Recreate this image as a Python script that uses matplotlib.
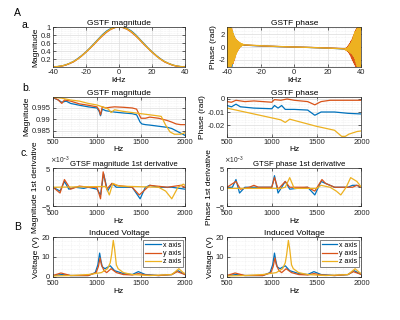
import numpy as np
import matplotlib.pyplot as plt
from matplotlib.ticker import AutoMinorLocator, FormatStrFormatter

plt.rcParams['font.family'] = ['Liberation Sans', 'DejaVu Sans']
plt.rcParams['font.size'] = 5.5
plt.rcParams['axes.unicode_minus'] = False

C_X = '#0072BD'
C_Y = '#D95319'
C_Z = '#EDB120'

# a. GSTF magnitude vs kHz
mag_khz = np.arange(-40, 40.1, 2.5)
mag_a_x = [0.0, 0.01, 0.025, 0.05, 0.09, 0.14, 0.21, 0.29, 0.38, 0.48, 0.59, 0.70, 0.81, 0.90, 0.96, 0.99, 1.0,
           0.99, 0.96, 0.90, 0.81, 0.70, 0.59, 0.48, 0.38, 0.29, 0.21, 0.14, 0.09, 0.05, 0.025, 0.01, 0.0]
mag_a_y = [0.0, 0.008, 0.02, 0.045, 0.085, 0.13, 0.2, 0.28, 0.37, 0.47, 0.57, 0.68, 0.78, 0.87, 0.94, 0.985, 1.0,
           0.985, 0.94, 0.87, 0.78, 0.68, 0.57, 0.47, 0.37, 0.28, 0.2, 0.13, 0.085, 0.045, 0.02, 0.008, 0.0]
mag_a_z = [0.0, 0.01, 0.025, 0.05, 0.09, 0.14, 0.2, 0.285, 0.375, 0.475, 0.58, 0.69, 0.795, 0.885, 0.95, 0.99, 1.0,
           0.99, 0.95, 0.885, 0.795, 0.69, 0.58, 0.475, 0.375, 0.285, 0.2, 0.14, 0.09, 0.05, 0.025, 0.01, 0.0]

# a. GSTF phase vs kHz (edges are wrapped, middle is smooth)
ph_left_khz = np.arange(-40, -30, 0.25)
ph_mid_khz = np.arange(-30, 30.1, 5)
ph_right_khz = np.arange(30.25, 40.1, 0.25)
ph_left_x = [3.1, 3.0, -3.1, -3.0, 3.1, -3.1, -3.0, 3.1, -3.1, -2.9, 3.0, -3.1, -2.7, 2.5, -2.3, 2.0, -1.9, 1.7, -1.5, 1.3,
             -1.2, 1.0, -0.9, 0.8, -0.6, 0.7, -0.4, 0.6, -0.2, 0.55, 0.0, 0.5, 0.1, 0.45, 0.2, 0.4, 0.25, 0.35, 0.28, 0.32]
ph_left_y = [-3.0, 3.1, -3.1, 2.9, -3.1, 3.1, -2.9, 3.0, -3.1, 2.7, -3.0, 2.9, -2.4, 2.2, -2.6, 1.9, -2.2, 1.6, -1.8, 1.4,
             -1.5, 1.2, -1.0, 1.0, -0.7, 0.9, -0.5, 0.8, -0.3, 0.7, -0.1, 0.6, 0.1, 0.5, 0.2, 0.45, 0.25, 0.4, 0.3, 0.35]
ph_left_z = [3.1, -3.1, 3.0, -3.1, 3.1, -3.0, 3.1, -3.1, 2.9, -3.1, 3.0, -2.8, 2.6, -2.5, 2.2, -2.4, 1.8, -2.0, 1.5, -1.6,
             1.3, -1.2, 1.1, -0.9, 1.0, -0.6, 0.9, -0.4, 0.8, -0.2, 0.7, 0.0, 0.6, 0.1, 0.5, 0.2, 0.5, 0.25, 0.45, 0.3]
ph_mid_x = [0.3, 0.23, 0.17, 0.12, 0.07, 0.03, 0.0, -0.04, -0.08, -0.13, -0.18, -0.24, -0.32]
ph_mid_y = [0.33, 0.25, 0.18, 0.13, 0.08, 0.04, 0.0, -0.03, -0.07, -0.11, -0.15, -0.2, -0.27]
ph_mid_z = [0.35, 0.27, 0.2, 0.14, 0.09, 0.04, 0.0, -0.04, -0.08, -0.12, -0.17, -0.23, -0.3]
ph_right_x = [-0.35, -0.3, -0.4, -0.2, -0.5, -0.1, -0.6, 0.0, -0.7, 0.2, -0.8, 0.3, -1.0, 0.6, -1.2, 0.8, -1.4, 1.0, -1.7, 1.3,
              -2.0, 1.6, -2.3, 1.9, -2.6, 2.3, -2.9, 2.6, -3.1, 2.9, 3.1, -3.0, 3.1, -3.1, 3.0, 3.1, -3.1, 3.0, -3.1, 3.1]
ph_right_y = [-0.3, -0.4, -0.2, -0.5, -0.1, -0.6, 0.0, -0.7, 0.2, -0.9, 0.4, -1.1, 0.6, -1.3, 0.9, -1.6, 1.1, -1.9, 1.4, -2.2,
              1.7, -2.5, 2.0, -2.7, 2.4, -3.0, 2.7, -3.1, 2.9, -3.0, 3.1, -3.1, 3.0, -2.9, 3.1, -3.1, 3.0, -3.1, 3.1, -3.0]
ph_right_z = [-0.3, -0.45, -0.25, -0.5, -0.2, -0.55, -0.1, -0.6, 0.0, -0.7, 0.2, -0.8, 0.4, -0.9, 0.6, -1.0, 0.9, -1.1, 1.2, -1.3,
              1.6, -1.5, 2.0, -1.8, 2.4, -2.2, 2.5, -2.6, 2.8, -3.0, 3.1, -3.1, 3.0, -3.1, 3.1, -3.0, 3.1, -3.1, 3.0, -3.1]

# b. GSTF magnitude vs Hz
mag_b_x_hz = [500, 560, 600, 650, 700, 800, 900, 1000, 1025, 1040, 1060, 1100, 1150, 1200, 1300, 1400, 1450, 1490,
              1510, 1550, 1600, 1700, 1800, 1850, 1900, 1950, 2000]
mag_b_x = [0.9995, 0.9985, 0.9975, 0.998, 0.997, 0.9962, 0.9955, 0.995, 0.9935, 0.9916, 0.9945, 0.9938, 0.9935,
           0.9932, 0.9928, 0.9925, 0.992, 0.9888, 0.988, 0.9877, 0.9875, 0.987, 0.9865, 0.986, 0.985, 0.984, 0.983]
mag_b_y_hz = [500, 560, 600, 630, 700, 800, 900, 1000, 1025, 1040, 1060, 1100, 1150, 1200, 1300, 1400, 1450, 1480,
              1500, 1550, 1600, 1700, 1750, 1800, 1850, 1900, 1950, 2000]
mag_b_y = [0.9997, 0.9985, 0.997, 0.9985, 0.998, 0.9968, 0.9962, 0.9955, 0.994, 0.992, 0.9955, 0.995, 0.9953, 0.9955,
           0.9953, 0.995, 0.9945, 0.992, 0.9905, 0.9905, 0.991, 0.9905, 0.99, 0.9895, 0.9888, 0.988, 0.9877, 0.9877]
mag_b_z_hz = [500, 600, 700, 800, 900, 1000, 1100, 1130, 1160, 1200, 1300, 1400, 1500, 1600, 1700, 1730, 1780, 1830,
              1880, 1950, 2000]
mag_b_z = [0.9997, 0.9993, 0.9985, 0.998, 0.997, 0.9963, 0.995, 0.9945, 0.993, 0.9942, 0.9935, 0.993, 0.9925, 0.992,
           0.9915, 0.9913, 0.9875, 0.9845, 0.9835, 0.9835, 0.9842]

# b. GSTF phase vs Hz
ph_b_x_hz = [500, 550, 600, 650, 800, 1000, 1030, 1070, 1110, 1150, 1250, 1400, 1480, 1550, 1700, 1850, 2000]
ph_b_x = [-0.005, -0.006, -0.004, -0.006, -0.007, -0.0075, -0.005, -0.007, -0.005, -0.008, -0.008, -0.0085, -0.0125,
          -0.01, -0.01, -0.011, -0.0115]
ph_b_y_hz = [500, 550, 600, 700, 800, 900, 1000, 1030, 1100, 1170, 1250, 1400, 1480, 1550, 1650, 1800, 2000]
ph_b_y = [-0.002, -0.0025, -0.001, -0.002, -0.0015, -0.002, -0.0025, -0.0005, -0.001, 0.0, -0.001, -0.002, -0.0045,
          -0.002, -0.001, -0.001, -0.001]
ph_b_z_hz = [500, 800, 1100, 1150, 1200, 1500, 1700, 1780, 1820, 1860, 1950, 2000]
ph_b_z = [-0.007, -0.0115, -0.016, -0.018, -0.0155, -0.021, -0.024, -0.0287, -0.0287, -0.027, -0.025, -0.0245]

# c. first derivatives (units of 1e-3)
dmag_x_hz = [500, 580, 630, 680, 750, 850, 900, 1000, 1040, 1075, 1120, 1170, 1220, 1400, 1490, 1550, 1600, 1700,
             1850, 2000]
dmag_x = [0, -1, 1.5, -0.5, 0, -0.3, 0, -0.5, -2, 3.5, -1, 1, 0, 0, -3, 0, 0.5, 0, 0, -0.5]
dmag_y_hz = [500, 580, 630, 700, 800, 900, 1000, 1040, 1070, 1110, 1170, 1220, 1400, 1480, 1600, 1800, 1950, 2000]
dmag_y = [0, -1.5, 2, -0.5, 0.3, 0, 0, -3, 4, -0.5, 1, 0.5, 0, -2, 0.5, 0, 0.5, 0]
dmag_z_hz = [500, 1100, 1140, 1180, 1250, 1700, 1780, 1850, 1920, 1980, 2000]
dmag_z = [0, 0.2, -2, 1, 0.3, 0, -1, -3, 0, 0.8, 0.5]

dph_x_hz = [500, 560, 600, 640, 700, 1000, 1030, 1070, 1110, 1150, 1200, 1400, 1480, 1550, 1650, 1700, 1850, 1900,
            1950, 2000]
dph_x = [0, 0, 2, -1.5, 0, 0, 3, -1.5, 0, 1.5, -0.5, 0, -2, 1.5, 0.5, 0, 0, 0.5, 0.5, 0]
dph_y_hz = [500, 600, 650, 750, 800, 850, 1000, 1030, 1070, 1150, 1200, 1400, 1480, 1560, 1600, 1700, 1900, 1950, 2000]
dph_y = [0, 1.5, -0.5, 0, 0.5, 0, 0, 2.5, -0.5, 1.5, 0, 0, -1, 2, 1, 0, 0, 0.5, 0]
dph_z_hz = [500, 1100, 1150, 1200, 1250, 1500, 1550, 1650, 1720, 1770, 1830, 1880, 1950, 2000]
dph_z = [-0.3, -0.3, 0, 2.5, -0.3, -0.3, 0.5, 0, -1, -2, 0, 2.5, 1.5, 0]

# B. induced voltage
volt_x_hz = [500, 600, 700, 900, 980, 1010, 1030, 1045, 1060, 1090, 1150, 1200, 1300, 1400, 1470, 1550, 1700, 1850,
             1920, 2000]
volt_x = [0.5, 1, 0.5, 0.5, 2, 6, 12, 8, 5, 4, 5.5, 3, 1.5, 1, 2.5, 1, 0.5, 1, 3, 1]
volt_y_hz = [500, 590, 700, 900, 990, 1015, 1035, 1050, 1080, 1110, 1160, 1220, 1300, 1400, 1470, 1550, 1700, 1850,
             1910, 2000]
volt_y = [0.5, 1.8, 0.5, 0.5, 2, 5, 9.5, 6, 3, 2, 4, 2, 1, 0.8, 1.5, 0.8, 0.5, 1, 2.5, 1]
volt_z_hz = [500, 700, 900, 1050, 1120, 1150, 1165, 1185, 1200, 1220, 1240, 1300, 1400, 1600, 1850, 1930, 1980, 2000]
volt_z = [0.3, 0.5, 1, 2, 4, 7, 11, 18.5, 14, 6, 4, 2, 1, 0.5, 1, 4, 2, 1.5]


def style(ax, title, xlabel, ylabel, tsize=6):
    # y given explicitly so the title stays level with the x10^-3 offset text
    ax.set_title(title, fontsize=tsize, pad=1.5, y=1.0)
    ax.set_xlabel(xlabel, fontsize=6, labelpad=0.5)
    ax.set_ylabel(ylabel, fontsize=6, labelpad=1)
    ax.tick_params(direction='in', length=2, width=0.5, pad=1.5, labelsize=5.5, colors='#262626',
                   top=True, right=True)
    ax.tick_params(which='minor', length=0, top=True, right=True)
    ax.xaxis.set_minor_locator(AutoMinorLocator())
    ax.yaxis.set_minor_locator(AutoMinorLocator())
    ax.grid(True, which='major', color='#dcdcdc', lw=0.5)
    ax.grid(True, which='minor', color='#e6e6e6', lw=0.4, ls=':')
    ax.set_axisbelow(True)
    for s in ax.spines.values():
        s.set_color('#262626')
        s.set_linewidth(0.5)


fig = plt.figure(figsize=(4, 3.2), dpi=100)
lw = 0.9
colL, colR = 0.1325, 0.5675
wL, wR = 0.33, 0.336

# a. magnitude
ax = fig.add_axes([colL, 0.7906, wL, 0.125])
ax.plot(mag_khz, mag_a_x, color=C_X, lw=lw)
ax.plot(mag_khz, mag_a_y, color=C_Y, lw=lw)
ax.plot(mag_khz, mag_a_z, color=C_Z, lw=lw)
ax.set_xlim(-40, 40)
ax.set_ylim(0, 1)
ax.set_xticks([-40, -20, 0, 20, 40])
ax.set_yticks([0.2, 0.4, 0.6, 0.8, 1])
ax.yaxis.set_major_formatter(FormatStrFormatter('%g'))
style(ax, 'GSTF magnitude', 'kHz', 'Magnitude')

# a. phase
ax = fig.add_axes([colR, 0.7906, wR, 0.125])
for left, mid, right, c in [(ph_left_x, ph_mid_x, ph_right_x, C_X),
                            (ph_left_y, ph_mid_y, ph_right_y, C_Y),
                            (ph_left_z, ph_mid_z, ph_right_z, C_Z)]:
    f = np.concatenate([ph_left_khz, ph_mid_khz, ph_right_khz])
    p = np.concatenate([left, mid, right])
    ax.plot(f, p, color=c, lw=lw)
ax.set_xlim(-40, 40)
ax.set_ylim(-np.pi, np.pi)
ax.set_xticks([-40, -20, 0, 20, 40])
ax.set_yticks([-2, 0, 2])
style(ax, 'GSTF phase', 'kHz', 'Phase (rad)')

# b. magnitude
ax = fig.add_axes([colL, 0.5734, wL, 0.1234])
ax.plot(mag_b_x_hz, mag_b_x, color=C_X, lw=lw)
ax.plot(mag_b_y_hz, mag_b_y, color=C_Y, lw=lw)
ax.plot(mag_b_z_hz, mag_b_z, color=C_Z, lw=lw)
ax.set_xlim(500, 2000)
ax.set_ylim(0.9825, 0.9998)
ax.set_xticks([500, 1000, 1500, 2000])
ax.set_yticks([0.985, 0.99, 0.995])
ax.yaxis.set_major_formatter(FormatStrFormatter('%g'))
style(ax, 'GSTF magnitude', 'Hz', 'Magnitude')

# b. phase
ax = fig.add_axes([colR, 0.5734, wR, 0.1234])
ax.plot(ph_b_x_hz, ph_b_x, color=C_X, lw=lw)
ax.plot(ph_b_y_hz, ph_b_y, color=C_Y, lw=lw)
ax.plot(ph_b_z_hz, ph_b_z, color=C_Z, lw=lw)
ax.set_xlim(500, 2000)
ax.set_ylim(-0.0288, 0.0015)
ax.set_xticks([500, 1000, 1500, 2000])
ax.set_yticks([-0.02, -0.01, 0])
ax.yaxis.set_major_formatter(FormatStrFormatter('%g'))
style(ax, 'GSTF phase', 'Hz', 'Phase (rad)')

# c. derivatives
for pos, data, title, ylabel in [
        ([colL, 0.3547, wL, 0.1203], [(dmag_x_hz, dmag_x, C_X), (dmag_y_hz, dmag_y, C_Y), (dmag_z_hz, dmag_z, C_Z)],
         'GTSF magnitude 1st derivative', 'Magnitude 1st derivative'),
        ([colR, 0.3547, wR, 0.1203], [(dph_x_hz, dph_x, C_X), (dph_y_hz, dph_y, C_Y), (dph_z_hz, dph_z, C_Z)],
         'GTSF phase 1st derivative', 'Phase 1st derivative')]:
    ax = fig.add_axes(pos)
    for hz, vals, c in data:
        ax.plot(hz, np.array(vals) * 1e-3, color=c, lw=lw)
    ax.set_xlim(500, 2000)
    ax.set_ylim(-5e-3, 5e-3)
    ax.set_xticks([500, 1000, 1500, 2000])
    ax.set_yticks([-5e-3, 0, 5e-3])
    ax.ticklabel_format(axis='y', style='sci', scilimits=(0, 0), useMathText=True)
    ax.yaxis.get_offset_text().set_fontsize(4.8)
    ax.yaxis.get_offset_text().set_x(-0.02)
    style(ax, title, 'Hz', ylabel, tsize=5.6)
    ax.title.set_x(0.54)
    ax.tick_params(axis='x', pad=2.5)

# B. induced voltage
for x0, w in [(colL, wL), (colR, wR)]:
    ax = fig.add_axes([x0, 0.1359, w, 0.122])
    ax.plot(volt_x_hz, volt_x, color=C_X, lw=lw, label='x axis')
    ax.plot(volt_y_hz, volt_y, color=C_Y, lw=lw, label='y axis')
    ax.plot(volt_z_hz, volt_z, color=C_Z, lw=lw, label='z axis')
    ax.set_xlim(500, 2000)
    ax.set_ylim(0, 20)
    ax.set_xticks([500, 1000, 1500, 2000])
    ax.set_yticks([0, 10, 20])
    style(ax, 'Induced Voltage', 'Hz', 'Voltage (V)')
    ax.tick_params(axis='y', pad=2.5)
    ax.tick_params(axis='x', pad=2.5)
    leg = ax.legend(loc='upper right', fontsize=5, handlelength=2.2, handletextpad=0.3, borderpad=0.3,
                    labelspacing=0.2, fancybox=False, borderaxespad=0.3)
    leg.get_frame().set_edgecolor('#262626')
    leg.get_frame().set_linewidth(0.5)

# panel letters
fig.text(0.035, 0.96, 'A', fontsize=7.5, ha='left', va='center')
fig.text(0.055, 0.922, 'a.', fontsize=7.5, ha='left', va='center')
fig.text(0.055, 0.725, 'b.', fontsize=7.5, ha='left', va='center')
fig.text(0.052, 0.522, 'c.', fontsize=7.5, ha='left', va='center')
fig.text(0.035, 0.29, 'B', fontsize=7.5, ha='left', va='center')

plt.savefig('out.png', dpi=100)
